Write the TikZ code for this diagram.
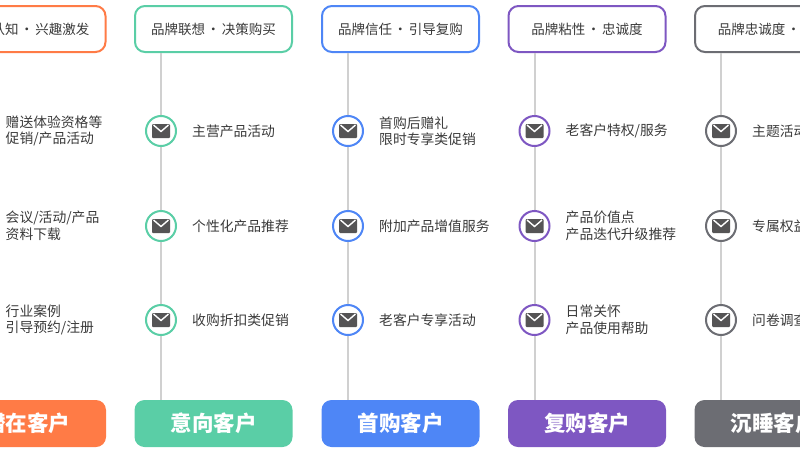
\documentclass[tikz,border=0pt]{standalone}
\usepackage{fontspec}
\usepackage{tikz}
\usetikzlibrary{positioning}
\newfontfamily\cjk{Noto Sans CJK SC}
\definecolor{textColor}{RGB}{58,58,58}
\definecolor{lineColor}{RGB}{208,208,208}
\definecolor{iconColor}{RGB}{85,84,85}
\definecolor{potentialColor}{RGB}{255,123,70}
\definecolor{intentColor}{RGB}{90,206,166}
\definecolor{firstColor}{RGB}{78,134,246}
\definecolor{repeatColor}{RGB}{126,87,194}
\definecolor{sleepColor}{RGB}{108,109,115}
\tikzstyle{canvas} = [x = 1pt, y = -1pt]
\tikzstyle{topBox} = [draw, fill=white, line width=2pt, rounded corners=10pt, minimum width=157pt, minimum height=46pt, font=\cjk\fontsize{13.5}{17}\selectfont, text=textColor]
\tikzstyle{bottomBox} = [rounded corners=10pt, minimum width=158pt, minimum height=47pt, font=\cjk\bfseries\fontsize{21.5}{25}\selectfont, text=white]
\tikzstyle{timeLine} = [color=lineColor, line width=2pt]
\tikzstyle{pointCircle} = [circle, draw, fill=white, line width=2pt, minimum size=30pt, inner sep=0pt]
\tikzstyle{pointText} = [inner sep=0pt, align=left, font=\cjk\fontsize{13.8}{16.5}\selectfont, text=textColor]
\tikzstyle{envelopeBody} = [fill=iconColor, rounded corners=1pt]
\tikzstyle{envelopeFlap} = [draw=white, line width=1.4pt]
\newcommand{\sep}{\kern1.7pt·\kern1.7pt}
\newcommand{\stageColumn}[5]{
  \node [topBox, draw=#3] (top#1) at (#2, 29) {#4};
  \node [bottomBox, fill=#3] (bottom#1) at (#2, 423.5) {#5};
  \coordinate (axis#1) at (#2 - 52.5, 0);
  \draw [timeLine] (axis#1 |- top#1.south) -- (axis#1 |- bottom#1.north);
}
\newcommand{\touchPoint}[5]{
  \node [pointCircle, draw=#4] (point#1#2) at (axis#1 |- 0,#3) {};
  \fill [envelopeBody] ([shift={(-9,-7)}]point#1#2.center) rectangle ([shift={(9,7)}]point#1#2.center);
  \draw [envelopeFlap] ([shift={(-7.5,-6)}]point#1#2.center) -- ([shift={(0,0.5)}]point#1#2.center) -- ([shift={(7.5,-6)}]point#1#2.center);
  \node [pointText, right=15pt of point#1#2] (label#1#2) {#5};
}

\begin{document}
\begin{tikzpicture}[canvas]
  \useasboundingbox (0,0) rectangle (800,450);
  \clip (0,0) rectangle (800,450);

  \stageColumn{1}{27}{potentialColor}{\phantom{品牌}认知\sep 兴趣激发}{潜在客户}
  \touchPoint{1}{1}{131}{potentialColor}{赠送体验资格等\\促销/产品活动}
  \touchPoint{1}{2}{226}{potentialColor}{会议/活动/产品\\资料下载}
  \touchPoint{1}{3}{320}{potentialColor}{行业案例\\引导预约/注册}

  \stageColumn{2}{213.5}{intentColor}{品牌联想\sep 决策购买}{意向客户}
  \touchPoint{2}{1}{131}{intentColor}{主营产品活动}
  \touchPoint{2}{2}{226}{intentColor}{个性化产品推荐}
  \touchPoint{2}{3}{320}{intentColor}{收购折扣类促销}

  \stageColumn{3}{400.5}{firstColor}{品牌信任\sep 引导复购}{首购客户}
  \touchPoint{3}{1}{131}{firstColor}{首购后赠礼\\限时专享类促销}
  \touchPoint{3}{2}{226}{firstColor}{附加产品增值服务}
  \touchPoint{3}{3}{320}{firstColor}{老客户专享活动}

  \stageColumn{4}{587}{repeatColor}{品牌粘性\sep 忠诚度}{复购客户}
  \touchPoint{4}{1}{131}{repeatColor}{老客户特权/服务}
  \touchPoint{4}{2}{226}{repeatColor}{产品价值点\\产品迭代升级推荐}
  \touchPoint{4}{3}{320}{repeatColor}{日常关怀\\产品使用帮助}

  \stageColumn{5}{773.5}{sleepColor}{品牌忠诚度\sep \phantom{品牌}}{沉睡客户}
  \touchPoint{5}{1}{131}{sleepColor}{主题活动}
  \touchPoint{5}{2}{226}{sleepColor}{专属权益}
  \touchPoint{5}{3}{320}{sleepColor}{问卷调查}
\end{tikzpicture}
\end{document}
